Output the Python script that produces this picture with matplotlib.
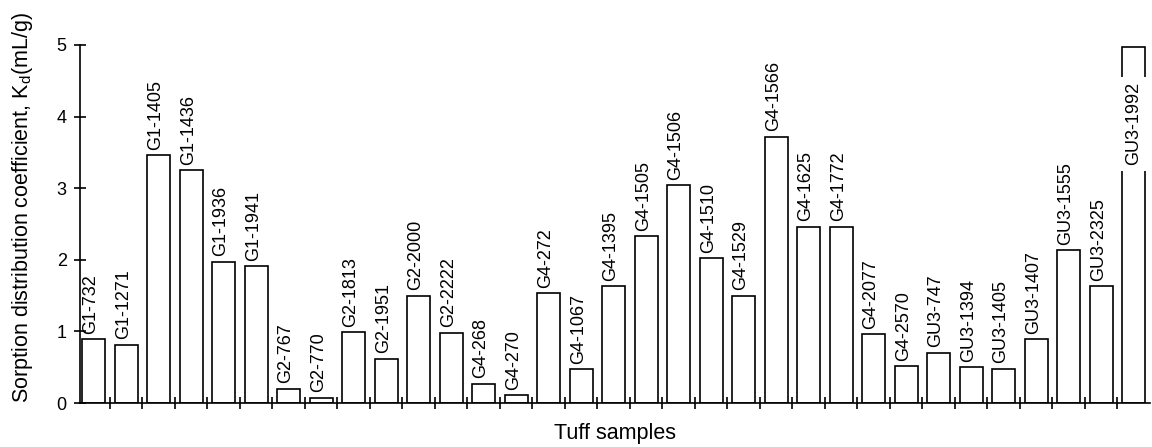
import numpy as np
import matplotlib.pyplot as plt

plt.rcParams['font.family'] = ['Liberation Sans', 'DejaVu Sans']

# Kd values (mL/g)
samples = ['G1-732', 'G1-1271', 'G1-1405', 'G1-1436', 'G1-1936', 'G1-1941',
           'G2-767', 'G2-770', 'G2-1813', 'G2-1951', 'G2-2000', 'G2-2222',
           'G4-268', 'G4-270', 'G4-272', 'G4-1067', 'G4-1395', 'G4-1505',
           'G4-1506', 'G4-1510', 'G4-1529', 'G4-1566', 'G4-1625', 'G4-1772',
           'G4-2077', 'G4-2570', 'GU3-747', 'GU3-1394', 'GU3-1405', 'GU3-1407',
           'GU3-1555', 'GU3-2325', 'GU3-1992']
kd = [0.89, 0.81, 3.46, 3.25, 1.97, 1.91,
      0.20, 0.07, 0.99, 0.62, 1.50, 0.98,
      0.27, 0.11, 1.53, 0.47, 1.63, 2.33,
      3.04, 2.02, 1.50, 3.72, 2.46, 2.46,
      0.96, 0.51, 0.70, 0.50, 0.48, 0.89,
      2.13, 1.63, 4.97]

# the last bar is taller than its label room, label sits inside the bar
inside_label = {'GU3-1992': 3.32}

fig = plt.figure(figsize=(11.52, 4.47), dpi=100)
ax = fig.add_axes([80 / 1152, 44 / 447, 1070 / 1152, 358 / 447])

x = np.arange(len(samples))
ax.bar(x, kd, width=0.71, color='white', edgecolor='black', linewidth=1.2, zorder=2)

for xi, name, v in zip(x, samples, kd):
    if name in inside_label:
        ax.text(xi, inside_label[name], name, rotation=90, ha='center', va='bottom',
                fontsize=13, zorder=3,
                bbox=dict(boxstyle='square,pad=0.3', fc='white', ec='none'))
    else:
        ax.annotate(name, (xi, v), xytext=(-2, 4), textcoords='offset points',
                    rotation=90, ha='center', va='bottom', fontsize=13)

ax.set_xlim(-0.42, len(samples) - 0.5)
ax.set_ylim(0, 5)
ax.set_yticks(range(6))
ax.set_xticks([])
ax.set_xticks(x[:-1] + 0.5, minor=True)
ax.tick_params(axis='y', direction='inout', length=9, width=1.2, labelsize=13, pad=5)
ax.tick_params(axis='x', which='minor', direction='inout', length=8, width=1.2)

for side in ['top', 'right']:
    ax.spines[side].set_visible(False)
ax.spines['left'].set_linewidth(1.2)
ax.spines['bottom'].set_linewidth(1.2)

ax.set_xlabel('Tuff samples', fontsize=15.5, labelpad=7)
ax.set_ylabel('Sorption distribution coefficient, K$_\\mathregular{d}$(mL/g)', fontsize=15.5, va='center')
ax.yaxis.set_label_coords(-0.054, 0.545)

fig.savefig('out.png', dpi=100)
